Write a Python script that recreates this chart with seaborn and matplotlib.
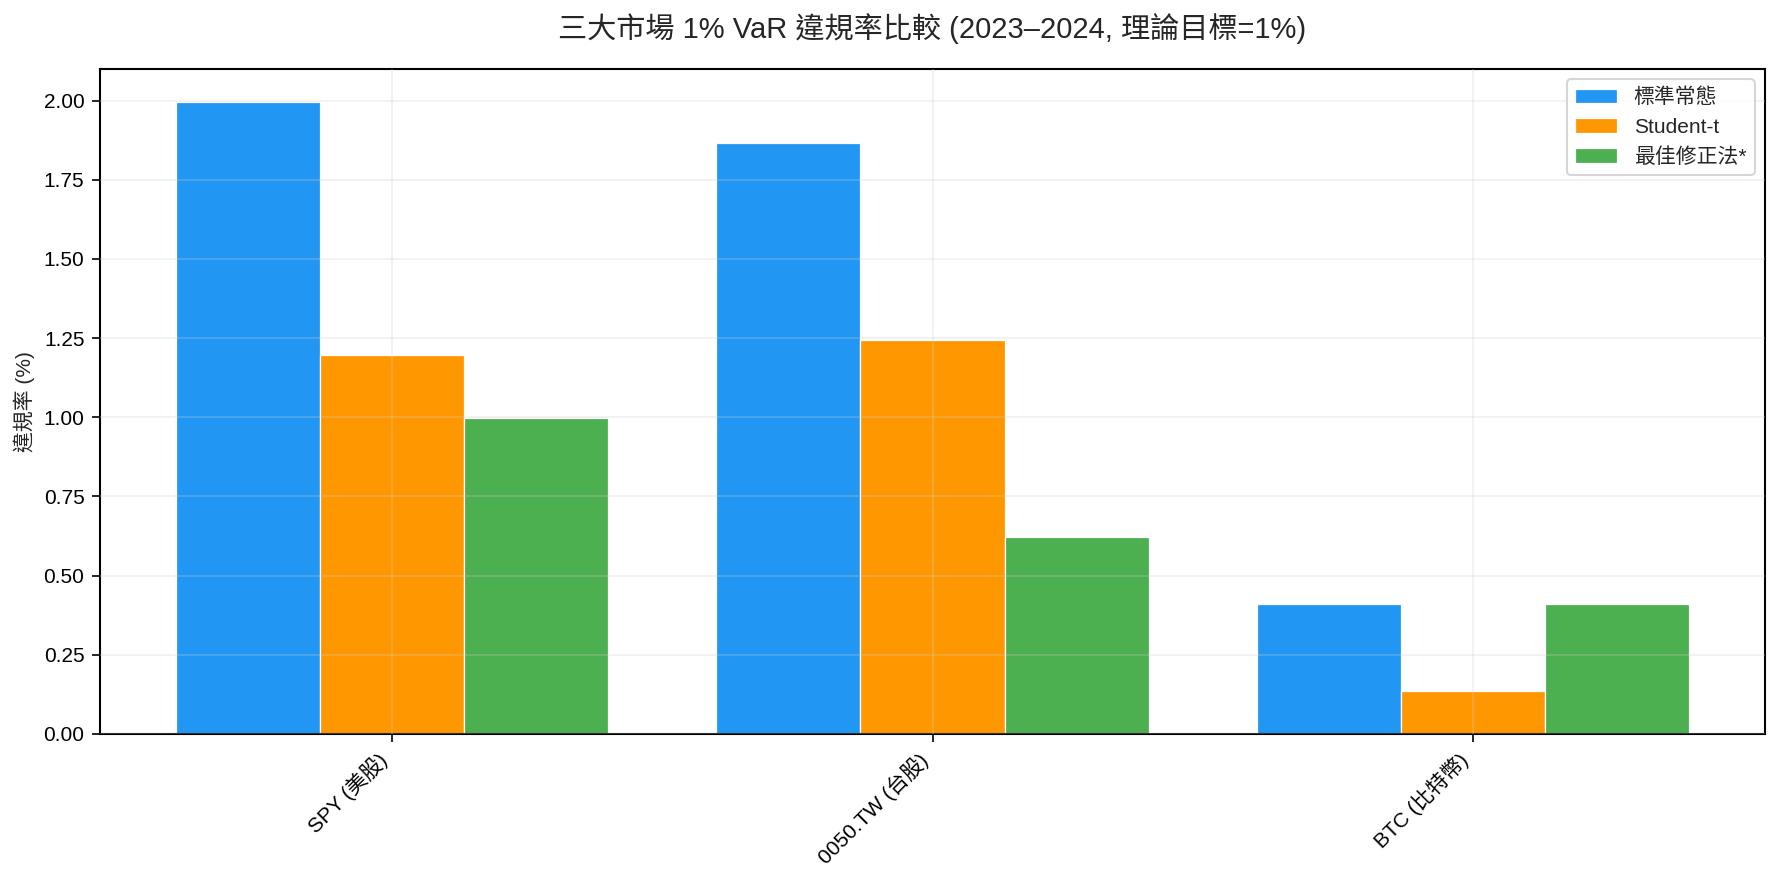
import matplotlib
matplotlib.use("Agg")
import matplotlib.pyplot as plt
import seaborn as sns
import pandas as pd

markets = ["SPY (美股)", "0050.TW (台股)", "BTC (比特幣)"]
methods = ["標準常態", "Student-t", "最佳修正法*"]
normal_vals = [1.996, 1.867, 0.410]
student_vals = [1.198, 1.245, 0.137]
best_vals = [0.998, 0.622, 0.410]
colors = ["#2196F3", "#FF9800", "#4CAF50"]

sns.set_style("ticks")
plt.rcParams["font.family"] = ["Liberation Sans", "Noto Sans CJK TC", "DejaVu Sans"]
plt.rcParams["axes.unicode_minus"] = False

rows = []
for m, n, s, b in zip(markets, normal_vals, student_vals, best_vals):
    rows.append((m, methods[0], n))
    rows.append((m, methods[1], s))
    rows.append((m, methods[2], b))
df = pd.DataFrame(rows, columns=["market", "method", "rate"])

fig = plt.figure(figsize=(1783 / 150, 884 / 150), dpi=150)
ax = fig.add_axes([0.0561, 0.1697, 0.9338, 0.7523])

sns.barplot(data=df, x="market", y="rate", hue="method", hue_order=methods,
            order=markets, palette=colors, width=0.8, gap=0,
            edgecolor="white", linewidth=0.6, saturation=1, ax=ax)

ax.set_xlim(-0.54, 2.54)
ax.set_ylim(0, 2.1)
ax.set_yticks([0, 0.25, 0.5, 0.75, 1.0, 1.25, 1.5, 1.75, 2.0])
ax.set_yticklabels([f"{v:.2f}" for v in ax.get_yticks()], fontsize=10)
ax.set_xlabel("")
ax.set_ylabel("違規率 (%)", fontsize=10)
ax.set_title("三大市場 1% VaR 違規率比較 (2023–2024, 理論目標=1%)", fontsize=14, pad=15)
plt.setp(ax.get_xticklabels(), rotation=45, ha="right", fontsize=10, rotation_mode="default")
ax.grid(True, alpha=0.3)
ax.set_axisbelow(False)
for sp in ax.spines.values():
    sp.set_visible(True)
    sp.set_color("black")
    sp.set_linewidth(1.0)
ax.tick_params(axis="both", direction="out", length=4, width=0.8, colors="black")
ax.legend(loc="upper right", fontsize=10, frameon=True, title=None)

fig.savefig("out.png", dpi=150)
